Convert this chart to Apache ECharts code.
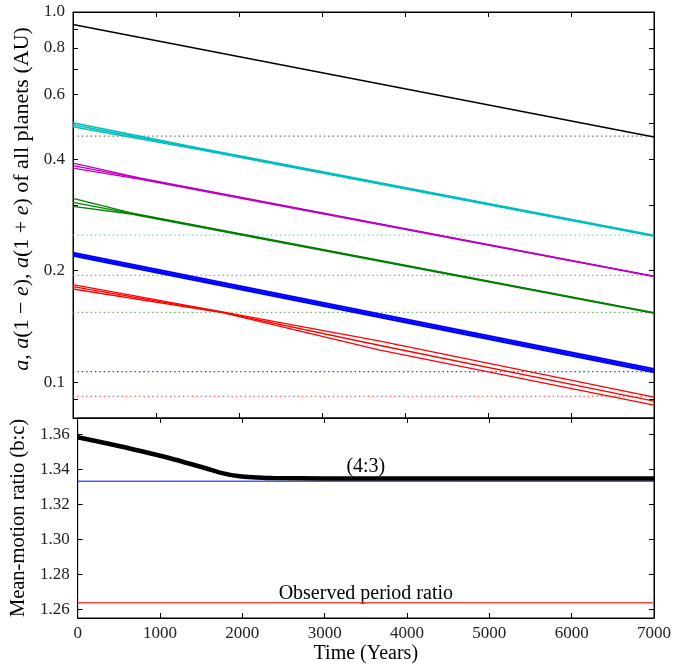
<!DOCTYPE html>
<html>
<head>
<meta charset="utf-8">
<script src="https://cdn.jsdelivr.net/npm/echarts@6/dist/echarts.min.js"></script>
<style>
  html, body { margin: 0; padding: 0; background: #fff; }
  #chart { width: 697px; height: 665px; }
</style>
</head>
<body>
<div id="chart"></div>
<script>
// time axis
const xTicks = [0, 1000, 2000, 3000, 4000, 5000, 6000, 7000];

// top panel: semi-major axes (AU)
const blackT = [0, 7000];
const blackA = [0.9248, 0.4595];

const cyanT = [0, 1500, 7000];
const cyanHi = [0.5022, 0.4296, 0.2492];
const cyanA = [0.4960, 0.4277, 0.2485];
const cyanLo = [0.4898, 0.4259, 0.2478];

const magentaT = [0, 800, 7000];
const magentaHi = [0.3903, 0.3565, 0.1935];
const magentaA = [0.3843, 0.3551, 0.1931];
const magentaLo = [0.3784, 0.3538, 0.1927];

const greenT = [0, 700, 7000];
const greenHi = [0.3136, 0.2867, 0.1542];
const greenA = [0.3060, 0.2857, 0.1538];
const greenLo = [0.2985, 0.2846, 0.1534];

const blueT = [0, 7000];
const blueHi = [0.2238, 0.1086];
const blueA = [0.2216, 0.1075];
const blueLo = [0.2194, 0.1064];

const redT = [0, 1800, 3700, 7000];
const redHi = [0.1834, 0.1548, 0.1290, 0.0911];
const redA = [0.1811, 0.1544, 0.1256, 0.0888];
const redLo = [0.1785, 0.1540, 0.1220, 0.0867];

// observed values (dotted)
const observedA = [0.462, 0.2496, 0.1943, 0.1544, 0.1067, 0.0915];
const observedColors = ['#444444', '#33cccc', '#dd44dd', '#339933', '#0000ff', '#ff3333'];

const topTicks = [0.09, 0.1, 0.2, 0.3, 0.4, 0.5, 0.6, 0.7, 0.8, 0.9];
const topLabels = [0.1, 0.2, 0.4, 0.6, 0.8, 1.0];

// bottom panel: mean-motion ratio
const ratioT = [0, 361, 764, 1165, 1566, 1767, 1969, 2169, 2370, 3000, 4000, 5000, 6000, 7000];
const ratioV = [1.3585, 1.3549, 1.3506, 1.3459, 1.3406, 1.3378, 1.3361, 1.3355, 1.3351, 1.3349, 1.3349, 1.3348, 1.3349, 1.3348];
const resonance = 4 / 3;
const observedRatio = 1.2637;
const bottomTicks = [1.26, 1.28, 1.30, 1.32, 1.34, 1.36];

const notes = [
  { text: '(4:3)', t: 3500, v: 1.3418 },
  { text: 'Observed period ratio', t: 3500, v: 1.2688 }
];

const FONT = 'Liberation Serif';

function pairs(ts, vs) {
  return ts.map((t, i) => [t, vs[i]]);
}

function line(data, color, width, grid, type) {
  return {
    type: 'line',
    xAxisIndex: grid * 2,
    yAxisIndex: grid * 2,
    data: data,
    showSymbol: false,
    symbol: 'none',
    silent: true,
    lineStyle: { color: color, width: width, type: type || 'solid' },
    z: 3
  };
}

const series = [];
observedA.forEach((v, i) => {
  const s = line([[0, v], [7000, v]], observedColors[i], 1.3, 0, [1.4, 3]);
  s.lineStyle.opacity = 0.8;
  s.z = 2;
  series.push(s);
});
series.push(line(pairs(blackT, blackA), '#000000', 1.5, 0));
[cyanHi, cyanA, cyanLo].forEach(v => series.push(line(pairs(cyanT, v), '#00bfbf', 1.6, 0)));
[magentaHi, magentaA, magentaLo].forEach(v => series.push(line(pairs(magentaT, v), '#bf00bf', 1.3, 0)));
[greenHi, greenA, greenLo].forEach(v => series.push(line(pairs(greenT, v), '#008000', 1.3, 0)));
[blueHi, blueA, blueLo].forEach(v => series.push(line(pairs(blueT, v), '#0000ff', 2, 0)));
[redHi, redA, redLo].forEach(v => series.push(line(pairs(redT, v), '#ff0000', 1.3, 0)));

series.push(line([[0, resonance], [7000, resonance]], '#0000ff', 1, 1));
series.push(line([[0, observedRatio], [7000, observedRatio]], '#ff4444', 1.6, 1));
const ratioLine = line(pairs(ratioT, ratioV), '#000000', 4.5, 1);
ratioLine.smooth = 0.3;
series.push(ratioLine);
series.push({
  type: 'scatter',
  xAxisIndex: 2,
  yAxisIndex: 2,
  symbolSize: 1,
  silent: true,
  itemStyle: { color: 'transparent' },
  label: {
    show: true,
    position: 'inside',
    formatter: p => p.data.name,
    fontFamily: FONT,
    fontSize: 20,
    color: '#000',
    opacity: 1,
    textBorderWidth: 0
  },
  data: notes.map(n => ({ name: n.text, value: [n.t, n.v] }))
});

const axisLine = { show: true, onZero: false, lineStyle: { color: '#000', width: 1 } };
const tick = { show: true, inside: true, length: 5, lineStyle: { color: '#000', width: 1 } };

function xAxis(grid, position, labels) {
  return {
    type: 'value',
    gridIndex: grid,
    position: position,
    min: 0,
    max: 7000,
    interval: 1000,
    axisLine: axisLine,
    axisTick: tick,
    splitLine: { show: false },
    axisLabel: {
      show: labels,
      margin: 7,
      formatter: v => String(v),
      fontFamily: FONT,
      fontSize: 17,
      color: '#222',
      showMinLabel: true,
      showMaxLabel: true
    },
    name: labels ? 'Time (Years)' : '',
    nameLocation: 'middle',
    nameGap: 26,
    nameTextStyle: { fontFamily: FONT, fontSize: 20, color: '#000' }
  };
}

const chart = echarts.init(document.getElementById('chart'));
chart.setOption({
  animation: false,
  grid: [
    { left: 73, right: 43, top: 12, height: 406, show: true, borderColor: '#000', borderWidth: 1 },
    { left: 73, right: 43, top: 418, height: 203, show: true, borderColor: '#000', borderWidth: 1 }
  ],
  xAxis: [
    xAxis(0, 'bottom', false),
    xAxis(0, 'top', false),
    xAxis(1, 'bottom', true),
    xAxis(1, 'top', false)
  ],
  yAxis: [
    {
      type: 'log',
      gridIndex: 0,
      position: 'left',
      min: 0.08,
      max: 1.0,
      axisLine: axisLine,
      axisTick: Object.assign({}, tick, { customValues: topTicks }),
      splitLine: { show: false },
      axisLabel: {
        customValues: topLabels,
        formatter: v => Number(v).toFixed(1),
        margin: 8,
        fontFamily: FONT,
        fontSize: 17,
        color: '#222'
      },
      name: '{i|a}, {i|a}(1 − {i|e}), {i|a}(1 + {i|e}) of all planets (AU)',
      nameLocation: 'middle',
      nameGap: 25,
      nameTextStyle: {
        fontFamily: FONT,
        fontSize: 22,
        color: '#000',
        padding: [0, 0, 0, 32],
        rich: { i: { fontFamily: FONT, fontSize: 22, fontStyle: 'italic', color: '#000' } }
      }
    },
    {
      type: 'log',
      gridIndex: 0,
      position: 'right',
      min: 0.08,
      max: 1.0,
      axisLine: axisLine,
      axisTick: Object.assign({}, tick, { customValues: topTicks }),
      splitLine: { show: false },
      axisLabel: { show: false }
    },
    {
      type: 'value',
      gridIndex: 1,
      position: 'left',
      min: 1.255,
      max: 1.3695,
      axisLine: axisLine,
      axisTick: Object.assign({}, tick, { customValues: bottomTicks }),
      splitLine: { show: false },
      axisLabel: {
        customValues: bottomTicks,
        formatter: v => Number(v).toFixed(2),
        margin: 8,
        fontFamily: FONT,
        fontSize: 17,
        color: '#222'
      },
      name: 'Mean-motion ratio (b:c)',
      nameLocation: 'middle',
      nameGap: 36,
      nameTextStyle: { fontFamily: FONT, fontSize: 20.5, color: '#000' }
    },
    {
      type: 'value',
      gridIndex: 1,
      position: 'right',
      min: 1.255,
      max: 1.3695,
      axisLine: axisLine,
      axisTick: Object.assign({}, tick, { customValues: bottomTicks }),
      splitLine: { show: false },
      axisLabel: { show: false }
    }
  ],
  series: series
});

window.addEventListener('resize', () => chart.resize());
</script>
</body>
</html>
